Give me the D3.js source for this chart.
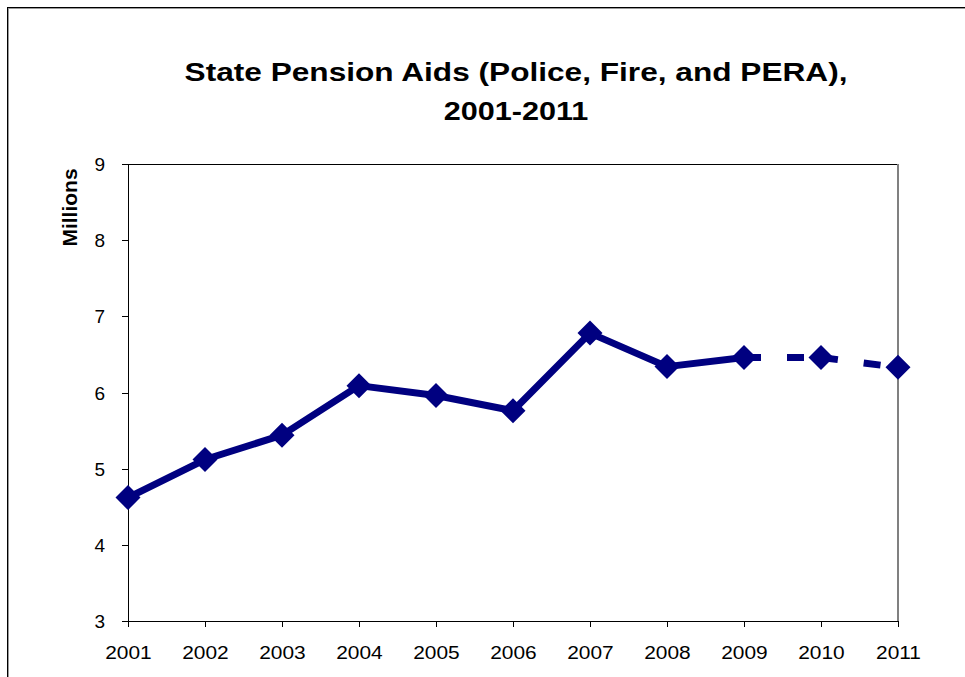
<!DOCTYPE html>
<meta charset="utf-8">
<head>
  <title>State Pension Aids</title>
</head>

<style>
body {
  margin: 0;
  background: #fff;
  font-family: "Liberation Sans", Arial, sans-serif;
}
.axis path, .axis line {
  stroke: #000;
  stroke-width: 1;
  shape-rendering: crispEdges;
}
.axis text {
  font-family: "Liberation Sans", Arial, sans-serif;
  font-size: 19px;
  fill: #000;
}
</style>

<body>
  <svg width="965" height="677"></svg>

  <script src="https://cdn.jsdelivr.net/npm/d3@7"></script>

  <script>
      var years = [2001, 2002, 2003, 2004, 2005, 2006, 2007, 2008, 2009, 2010, 2011];
      var aids = [4.62, 5.12, 5.44, 6.09, 5.96, 5.76, 6.78, 6.34, 6.46, 6.46, 6.33];
      var projectedFrom = 2009;   // dashed after this year
      var yTicks = [3, 4, 5, 6, 7, 8, 9];
      var titleLines = ["State Pension Aids (Police, Fire, and PERA),", "2001-2011"];

      var svg = d3.select("svg");

      var plotLeft = 128, plotRight = 898, plotTop = 164, plotBottom = 621;

      var x = d3.scaleLinear().domain([2001, 2011]).range([plotLeft, plotRight]);
      var y = d3.scaleLinear().domain([3, 9]).range([plotBottom, plotTop]);

      var points = years.map(function(yr, i) { return {year: yr, value: aids[i]}; });

      // outer frame (runs off the page on the right and bottom)
      svg.append("rect")
        .attr("x", 8.5).attr("y", 8.5)
        .attr("width", 1000).attr("height", 1000)
        .attr("fill", "none").attr("stroke", "#999").attr("stroke-width", 1);
      svg.append("rect")
        .attr("x", 7.5).attr("y", 7.5)
        .attr("width", 1000).attr("height", 1000)
        .attr("fill", "none").attr("stroke", "#000").attr("stroke-width", 1);

      // plot area border: top black, right grey
      svg.append("line")
        .attr("x1", plotLeft).attr("x2", plotRight).attr("y1", plotTop + 0.5).attr("y2", plotTop + 0.5)
        .attr("stroke", "#000").attr("shape-rendering", "crispEdges");
      svg.append("line")
        .attr("x1", plotRight).attr("x2", plotRight).attr("y1", plotTop).attr("y2", plotBottom)
        .attr("stroke", "#808080").attr("stroke-width", 2);

      // axes
      var yAxis = svg.append("g")
        .attr("class", "axis")
        .attr("transform", "translate(" + plotLeft + ",0)")
        .call(d3.axisLeft(y).tickValues(yTicks).tickFormat(d3.format("d"))
          .tickSize(6).tickPadding(17).tickSizeOuter(0));
      yAxis.selectAll("text").attr("dy", "0.35em");

      var xAxis = svg.append("g")
        .attr("class", "axis")
        .attr("transform", "translate(0," + plotBottom + ")")
        .call(d3.axisBottom(x).tickValues(years).tickFormat(d3.format("d")).tickSize(6).tickSizeOuter(0));
      xAxis.selectAll("text")
        .attr("y", 38).attr("dy", 0)
        .attr("transform", "scale(1.1,1)");

      // y axis title
      svg.append("text")
        .attr("transform", "translate(77,207.5) rotate(-90)")
        .attr("text-anchor", "middle")
        .attr("font-size", "21px")
        .attr("font-weight", "bold")
        .text("Millions");

      // chart title
      svg.append("g").selectAll("text")
        .data(titleLines)
        .join("text")
        .attr("transform", function(d, i) { return "translate(516," + (81 + i * 39) + ") scale(" + (i ? 1.2 : 1.24) + ",1)"; })
        .attr("text-anchor", "middle")
        .attr("font-size", "25.5px")
        .attr("font-weight", "bold")
        .text(function(d) { return d; });

      var line = d3.line()
        .x(function(d) { return x(d.year); })
        .y(function(d) { return y(d.value); });

      var navy = "#000080";

      // actual values
      svg.append("path")
        .datum(points.filter(function(d) { return d.year <= projectedFrom; }))
        .attr("d", line)
        .attr("fill", "none")
        .attr("stroke", navy)
        .attr("stroke-width", 7)
        .attr("stroke-linejoin", "round");

      // projected values, dash pattern restarts per segment
      var proj = points.filter(function(d) { return d.year >= projectedFrom; });
      svg.append("g").selectAll("path")
        .data(d3.pairs(proj))
        .join("path")
        .attr("d", function(p) { return line(p); })
        .attr("fill", "none")
        .attr("stroke", navy)
        .attr("stroke-width", 7)
        .attr("stroke-dasharray", "17,26");

      // diamond markers
      svg.append("g").selectAll("path")
        .data(points)
        .join("path")
        .attr("transform", function(d) { return "translate(" + x(d.year) + "," + y(d.value) + ")"; })
        .attr("d", "M0,-12.5L12.5,0L0,12.5L-12.5,0Z")
        .attr("fill", navy);
  </script>
</body>
</html>
